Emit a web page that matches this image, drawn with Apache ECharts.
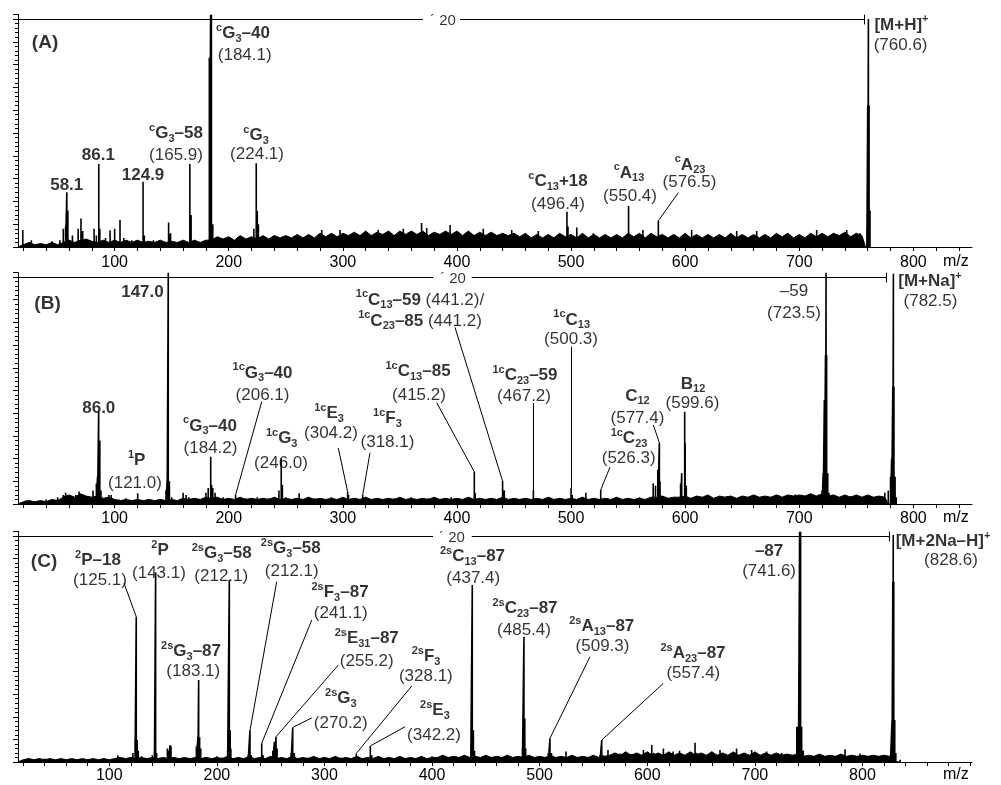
<!DOCTYPE html>
<html><head><meta charset="utf-8">
<script src="https://cdn.jsdelivr.net/npm/echarts@6/dist/echarts.min.js"></script>
<style>html,body{margin:0;padding:0;background:#fff}#c{width:1001px;height:785px}</style>
</head><body><div id="c"></div>
<script>
// ---------------- data ----------------
const xRangeAB = [15.3, 851.4];
const xRangeC = [15.2, 901.8];
const tickLabels = [100, 200, 300, 400, 500, 600, 700, 800];

// peaks [m/z, relative intensity] (display scale 0..100, ×20 region left of bar)
const peaksA = [[19.5,7.5],[27,3],[45,2.5],[52,3],[55,8],[57,9],[58.1,24],[59,16],[63,5],[68,8],[70.5,12.5],[72,7],[82,8],[84,5],[86.1,36.4],[87,8],[92,4],[96,7.4],[100,8],[104.7,11.8],[108,4],[115,3],[124.9,28.6],[126,5],[134,3],[147.3,10.7],[149,6],[165.9,36.4],[167,14],[183,83],[184.1,101.8],[184.8,101.8],[186,10],[196,3],[205,3],[212,4],[222,8],[224.1,36.7],[225,15.8],[226,10],[240,5],[281.5,7.5],[297.5,7.5],[331,7.5],[353,8],[369,10.5],[373.5,8.3],[394,9.6],[423.1,8],[448,7.5],[471.3,7],[496.4,15.5],[497.3,9],[505,8.5],[519.5,6],[550.4,18],[563,7.5],[576.5,11.5],[605.7,7.5],[645.2,7],[662.7,7],[715.3,7.5],[741.6,7.5],[753.3,6],[759.3,9],[760,62],[760.6,100],[761.2,62],[762,16]];
const peaksB = [[22,1.5],[40,2],[50,3],[55,4],[57,5],[60,3],[66,4],[68.8,5.5],[71,4],[78,3],[81,6],[84,9],[85,12],[86.0,40.7],[87,28],[88,6],[95,4],[97,4],[104,2],[110,2.5],[120.2,4.7],[130,2],[140,2],[145,6],[146,10.6],[147.0,101.9],[148,10],[150,3],[160,5],[162.6,4],[165,3],[170,2.5],[180,5],[182,7],[184.2,20.8],[185,8.4],[186,7],[188,5],[195,3],[206,4],[215,2.5],[225,3],[235,2.5],[244,6],[246,20.1],[247,8.4],[250,3],[261.7,4.7],[275,2.5],[290,3],[304.2,5.4],[305,4],[317.4,4],[330,2.5],[345,2.5],[360,3],[375,2.5],[395,3],[415.2,14.2],[416,5],[440,10.1],[441.5,6],[467,6.2],[481,3],[500,7],[501,4],[513,5],[526,6.2],[540,3],[560,3],[572,9],[574,8],[576,15],[577.4,27],[578,10],[596,9],[597,13.6],[599.6,40.7],[600,27],[601,8],[620,3],[636.4,3.5],[660,3],[682,4],[696.3,4.2],[710,4],[720,6],[721,13.6],[722,45.8],[723,65.6],[723.5,101.9],[724,65.6],[725,13.6],[726,5],[745,3.5],[760,3],[775,5],[778,6],[780,12],[781,20],[782,51.7],[782.5,101.5],[783,51.7],[784,12],[785,3]];
const peaksC = [[25,1.5],[40,1.5],[60,1],[80,1],[95,1.5],[108,3],[113,2],[118,1.5],[122,4],[124,10],[125.1,64.3],[126,9.7],[127,5],[130,2.5],[140,3],[142,5],[143.1,84],[144,4],[150,2],[154,6],[155,5],[156.5,7.5],[157.4,7],[160,2],[170,1.5],[181,7],[182.4,11],[183.1,36.3],[184,11],[185,6],[190,2],[200,2.5],[205,2],[210,5],[211.6,80.5],[212.4,14],[213,6],[220,2],[229,3],[230.8,14],[232,3],[241.7,8.3],[243,3],[252,5],[253.5,9],[255,11.2],[256,6],[269,4],[270.5,15.3],[272,4],[285,2],[300,2],[315,2],[329.6,3.8],[331,2.5],[342.6,7.1],[344,3],[360,2],[380,2],[400,2.5],[420,2],[436,4],[437.4,78.3],[438.4,14],[439.5,5],[450,2.5],[465,2],[484,6],[485.4,55.4],[486.2,19.3],[487,6],[500,2],[508,4],[509.6,10.5],[511,4],[524.5,4.6],[540,2.5],[556,3],[557.7,9.7],[559,3],[563.5,5.3],[574.7,3.8],[585,3.5],[596.4,5.3],[598,4],[604.2,7.5],[606,4],[615,6],[624,4.6],[630,5],[644.4,8.5],[646,4],[660,4.5],[667.6,5.3],[683,6],[697,5.3],[711,4.6],[725,4],[735,3],[739,15.6],[740.5,15.6],[741.6,101.9],[742.5,101.9],[743.5,15.6],[745,5],[760,3],[770,3],[783.8,5.6],[797.7,3.8],[810,3],[826,3],[827.5,18.6],[828.2,79.8],[828.6,100.4],[829.1,79.8],[830,18.6],[831,4],[835,1]];

// baseline noise sampled every 5 m/z
const noiseStep = 5;
const noiseStartA = 20;
const noiseA = [1,2,1,1.5,1,2,1,
 2,3,2,3,3.5,2.5,2,3,2,3,
 2,3,2,3,2,2.5,2,3,2,2.5,2,3,2,3,2,3,
 3,4.5,3.5,4.5,3,5,3.5,4.5,3.5,5,3.5,5,4,5,4,5.5,4,5.5,4,6,4.5,6,4.5,6,
 5,6.5,5,7,5,6.5,5.5,7,5,7,5.5,7,5.5,7,5,6.5,5.5,7,5.5,7,5,7,5,6.5,5,6.5,5,6,5,6,4.5,6,
 4,5.5,4,5.5,4,6,4.5,5.5,4,6,4,5.5,4,5.5,4,5.5,4,6,4.5,6,4,6,4.5,5.5,4,5.5,4,6,4,5.5,
 4,5.5,4,5.5,4,6,4,5.5,4,5.5,4,5.5,4,6,4.5,6,4,5.5,4,6,4.5,6,4.5,6,5,6.5,4.5,6,5];
const noiseStartB = 20;
const noiseB = [1,1.5,1,1.5,1,2,1.5,
 3,4,3,4.5,3.5,3,3.5,2.5,3,2,
 1.5,2,1.5,2,1.5,2,1.5,2,1.5,2,1.5,2.5,2,2.5,2,3,
 2.5,3,2,2.5,2,3,2,2.5,2,2.5,2,3,2,2.5,2,2.5,2,3,2,2.5,2,2.5,2,3,
 2,2.5,2,3,2,2.5,2,2.5,2,3,2,2.5,2,2.5,2,3,2,2.5,2,2.5,2,3,2,2.5,2,2.5,2,3,2,2.5,2,2.5,
 2,2.5,2,3,2,2.5,2,2.5,2,3,2,2.5,2,2.5,2,3,2,2.5,2,2.5,2,3,
 3,3.5,2.5,3,3,3.5,2.5,3.5,3,4,2.5,3.5,3,3.5,2.5,3.5,3,4,3,3.5,3,4,3,4,3.5,4,3.5,4.5,3.5,4.5,
 3.5,4,3,4,3,4,3,4,3,3.5,3];
const noiseStartC = 20;
const noiseC = [1,1.5,1,1.5,1,1.5,1,1.5,1,1.5,1,1.5,1,1.5,1,1.5,1,
 1.5,2,1.5,2,1.5,2,1.5,2,1.5,2,1.5,2,1.5,2,1.5,2,1.5,2,1.5,2,
 1.5,2.5,1.5,2,1.5,2.5,1.5,2,1.5,2.5,1.5,2,1.5,2.5,1.5,2,1.5,2.5,1.5,2,1.5,2.5,1.5,2,1.5,2.5,1.5,2,1.5,2.5,1.5,2,1.5,2.5,1.5,2,1.5,2.5,1.5,2,
 2,3,2,2.5,2,3,2,2.5,2,3,2,2.5,2,3,2,2.5,2,3,2,2.5,2,3,2,2.5,2,3,2,2.5,2,3,2,2.5,
 3,4,3,4.5,3,4,3,4.5,3,4,3,4.5,3,4,3,4.5,3,4,3,4.5,3,4,3,4.5,3,4,3,4.5,3,4,3,4,3,3.5,3,3.5,
 2.5,3,2.5,3.5,2.5,3,2.5,3.5,2.5,3,2.5,3,2.5,3,2.5,3,2.5];

// annotations [m/z, intensity, rich text]
const labelsA = [[39.0,89.5,'{h|(A)}'],[58.0,27.2,'{b|58.1}'],[85.7,40.0,'{b|86.1}'],[124.9,31.6,'{b|124.9}'],
 [153.8,50.0,'{p|c}{b|G}{s|3}{b|–58}'],[153.8,40.4,'{n|(165.9)}'],
 [212.5,93.7,'{p|c}{b|G}{s|3}{b|–40}'],[214.0,84.2,'{n|(184.1)}'],
 [223.9,49.1,'{p|c}{b|G}{s|3}'],[224.8,40.8,'{n|(224.1)}'],
 [488.6,28.6,'{p|c}{b|C}{s|13}{b|+18}'],[488.6,18.9,'{n|(496.4)}'],
 [550.8,32.5,'{p|c}{b|A}{s|13}'],[551.7,22.1,'{n|(550.4)}'],
 [604.3,36.0,'{p|c}{b|A}{s|23}'],[603.8,28.4,'{n|(576.5)}'],
 [789.6,97.4,'{b|[M+H]}{p|+}'],[788.8,88.6,'{n|(760.6)}'],
 [387.8,99.1,'{t|´ 20}']];
const labelsB = [[41.2,88.4,'{h|(B)}'],[124.4,93.1,'{b|147.0}'],[86.1,42.2,'{b|86.0}'],
 [119.3,19.4,'{p|1}{b|P}'],[117.8,9.1,'{n|(121.0)}'],
 [183.6,34.4,'{p|c}{b|G}{s|3}{b|–40}'],[184.0,24.5,'{n|(184.2)}'],
 [229.6,57.8,'{p|1c}{b|G}{s|3}{b|–40}'],[229.6,48.0,'{n|(206.1)}'],
 [246.4,28.9,'{p|1c}{b|G}{s|3}'],[245.8,17.9,'{n|(246.0)}'],
 [287.9,40.0,'{p|1c}{b|E}{s|3}'],[289.6,31.1,'{n|(304.2)}'],
 [339.1,37.8,'{p|1c}{b|F}{s|3}'],[339.1,27.4,'{n|(318.1)}'],
 [365.9,58.3,'{p|1c}{b|C}{s|13}{b|–85}'],[366.7,48.0,'{n|(415.2)}'],
 [367.6,89.9,'{p|1c}{b|C}{s|13}{b|–59}{n| (441.2)/}'],[367.6,80.7,'{p|1c}{b|C}{s|23}{b|–85}{n| (441.2)}'],
 [459.6,56.8,'{p|1c}{b|C}{s|23}{b|–59}'],[458.8,47.6,'{n|(467.2)}'],
 [500.6,81.1,'{p|1c}{b|C}{s|13}'],[500.0,72.6,'{n|(500.3)}'],
 [558.2,47.6,'{b|C}{s|12}'],[558.2,37.8,'{n|(577.4)}'],
 [550.8,28.9,'{p|1c}{b|C}{s|23}'],[550.5,20.1,'{n|(526.3)}'],
 [606.9,52.9,'{b|B}{s|12}'],[606.4,44.4,'{n|(599.6)}'],
 [695.4,93.5,'{n|–59}'],[695.4,84.0,'{n|(723.5)}'],
 [814.6,97.9,'{b|[M+Na]}{p|+}'],[815.0,89.1,'{n|(782.5)}'],
 [396.5,99.4,'{t|´ 20}']];
const labelsC = [[39.4,88.6,'{h|(C)}'],
 [89.5,89.4,'{p|2}{b|P–18}'],[91.4,80.5,'{n|(125.1)}'],
 [147.2,93.8,'{p|2}{b|P}'],[146.2,83.5,'{n|(143.1)}'],
 [204.5,92.3,'{p|2s}{b|G}{s|3}{b|–58}'],[204.1,82.0,'{n|(212.1)}'],
 [268.7,94.6,'{p|2s}{b|G}{s|3}{b|–58}'],[269.6,84.2,'{n|(212.1)}'],
 [176.0,48.8,'{p|2s}{b|G}{s|3}{b|–87}'],[178.1,40.0,'{n|(183.1)}'],
 [314.5,75.2,'{p|2s}{b|F}{s|3}{b|–87}'],[315.1,65.9,'{n|(241.1)}'],
 [339.3,54.7,'{p|2s}{b|E}{s|31}{b|–87}'],[339.3,44.4,'{n|(255.2)}'],
 [315.2,28.2,'{p|2s}{b|G}{s|3}'],[315.2,17.1,'{n|(270.2)}'],
 [394.4,46.6,'{p|2s}{b|F}{s|3}'],[394.2,37.7,'{n|(328.1)}'],
 [402.7,23.0,'{p|2s}{b|E}{s|3}'],[401.8,11.9,'{n|(342.2)}'],
 [437.6,90.8,'{p|2s}{b|C}{s|13}{b|–87}'],[438.3,81.3,'{n|(437.4)}'],
 [486.4,68.0,'{p|2s}{b|C}{s|23}{b|–87}'],[485.5,58.4,'{n|(485.4)}'],
 [557.7,59.9,'{p|2s}{b|A}{s|13}{b|–87}'],[558.4,51.0,'{n|(509.3)}'],
 [642.5,48.2,'{p|2s}{b|A}{s|23}{b|–87}'],[642.8,39.4,'{n|(557.4)}'],
 [713.2,93.1,'{b|–87}'],[713.2,84.2,'{n|(741.6)}'],
 [874.9,97.5,'{b|[M+2Na–H]}{p|+}'],[882.3,89.4,'{n|(828.6)}'],
 [418.5,99.1,'{t|´ 20}']];

// leader lines [m1, v1, m2, v2]
const leadersA = [[594.0,23.8,576.5,11.5]];
const leadersB = [[228.9,45.1,206,4],[296.0,24.7,304.2,5.4],[323.8,22.6,317.4,4],[382.3,44.6,415.2,14.2],[398.3,77.8,440,10.1],[467,44.5,467,6.2],[500,69.3,500,7],[534.1,16.2,526,6.2],[572.1,34.8,577.4,27]];
const leadersC = [[113.7,79.1,125.1,64.3],[255.6,79.8,230.8,14],[288.2,62.8,241.7,8.3],[312.9,42.9,255,11.2],[288.2,19.5,270.5,15.3],[381.1,33.6,329.6,3.8],[374.9,15.6,342.6,7.1],[546.8,46.6,509.6,10.5],[614.9,34.8,557.7,9.7]];

// ×20 magnification bar: [gap start, gap end, end of magnified range]
const zoomBarA = [370.3, 402.7, 756.8];
const zoomBarB = [379.3, 412.9, 776.0];
const zoomBarC = [400.9, 436.9, 825.0];

// ---------------- chart ----------------
const FONT = '"Liberation Sans", Arial, Helvetica, sans-serif';
const rich = {
  b: {fontFamily: FONT, fontSize: 17, fontWeight: 'bold', color: '#000', lineHeight: 22},
  n: {fontFamily: FONT, fontSize: 17, fontWeight: 'normal', color: '#000', lineHeight: 22},
  p: {fontFamily: FONT, fontSize: 11, fontWeight: 'bold', color: '#000', lineHeight: 14, verticalAlign: 'top'},
  s: {fontFamily: FONT, fontSize: 11, fontWeight: 'bold', color: '#000', lineHeight: 8, verticalAlign: 'bottom'},
  t: {fontFamily: FONT, fontSize: 15, fontWeight: 'normal', color: '#000', lineHeight: 22},
  h: {fontFamily: FONT, fontSize: 19, fontWeight: 'bold', color: '#000', lineHeight: 22}
};

const panels = [
  {top: 14.4, height: 232.6, xr: xRangeAB, peaks: peaksA, noise: noiseA, ns: noiseStartA, labels: labelsA, leaders: leadersA, bar: zoomBarA, margin: 8, mzY: 263},
  {top: 272.5, height: 231.5, xr: xRangeAB, peaks: peaksB, noise: noiseB, ns: noiseStartB, labels: labelsB, leaders: leadersB, bar: zoomBarB, margin: 7, mzY: 519},
  {top: 531.5, height: 230.5, xr: xRangeC, peaks: peaksC, noise: noiseC, ns: noiseStartC, labels: labelsC, leaders: leadersC, bar: zoomBarC, margin: 6, mzY: 776}
];
const YMAX = 102;

const grid = [], xAxis = [], yAxis = [], series = [], graphic = [];
panels.forEach((P, i) => {
  grid.push({left: 18, width: 954, top: P.top, height: P.height, containLabel: false});
  xAxis.push({
    type: 'value', gridIndex: i, min: P.xr[0], max: P.xr[1],
    splitNumber: 42, minInterval: 20, maxInterval: 20,
    axisLine: {show: true, onZero: false, lineStyle: {color: '#000', width: 1}},
    axisTick: {show: true, inside: false, length: 4, lineStyle: {color: '#000', width: 1}},
    splitLine: {show: false},
    axisLabel: {show: true, margin: P.margin, color: '#000', fontFamily: FONT, fontSize: 16,
      showMinLabel: false, showMaxLabel: false,
      formatter: v => { const r = Math.round(v); return (Math.abs(v - r) < 1e-6 && tickLabels.includes(r)) ? String(r) : ''; }}
  });
  yAxis.push({
    type: 'value', gridIndex: i, min: 0, max: YMAX, interval: 10,
    axisLine: {show: true, onZero: false, lineStyle: {color: '#000', width: 1}},
    axisTick: {show: true, inside: false, length: 5, lineStyle: {color: '#000', width: 1}},
    minorTick: {show: true, splitNumber: 5, length: 3, lineStyle: {color: '#000', width: 1}},
    splitLine: {show: false}, minorSplitLine: {show: false},
    axisLabel: {show: false}
  });
  // noise band
  const npts = [[P.ns - noiseStep, 0]];
  P.noise.forEach((v, k) => npts.push([P.ns + k * noiseStep, v]));
  npts.push([P.ns + (P.noise.length - 1) * noiseStep + 3, 0]);
  series.push({type: 'line', xAxisIndex: i, yAxisIndex: i, data: npts, symbol: 'none', silent: true,
    lineStyle: {color: '#000', width: 1}, areaStyle: {color: '#000', opacity: 1}, z: 2});
  // stick spectrum
  const sorted = P.peaks.slice().sort((a, b) => a[0] - b[0]);
  const spts = [];
  sorted.forEach(([m, v]) => { spts.push([m, 0], [m, v], [m, 0]); });
  const ml = P.leaders.map(l => [{coord: [l[0], l[1]]}, {coord: [l[2], l[3]]}]);
  ml.push([{coord: [P.xr[0], 100]}, {coord: [P.bar[0], 100]}]);
  ml.push([{coord: [P.bar[1], 100]}, {coord: [P.bar[2], 100]}]);
  ml.push([{coord: [P.bar[2], 101.9]}, {coord: [P.bar[2], 97.6]}]);
  series.push({type: 'line', xAxisIndex: i, yAxisIndex: i, data: spts, symbol: 'none', silent: true, clip: false,
    lineStyle: {color: '#000', width: 1.6}, z: 3,
    markLine: {silent: true, symbol: ['none', 'none'], animation: false,
      label: {show: false}, lineStyle: {color: '#000', width: 1, type: 'solid'},
      emphasis: {disabled: true}, data: ml}});
  // annotations
  series.push({type: 'scatter', xAxisIndex: i, yAxisIndex: i, symbolSize: 0, silent: true, clip: false, z: 5,
    data: P.labels.map(l => ({value: [l[0], l[1]], t: l[2]})),
    label: {show: true, position: 'inside', align: 'center', verticalAlign: 'middle',
      formatter: p => p.data.t, rich: rich}});
  graphic.push({type: 'text', left: 943, top: P.mzY - 9, style: {text: 'm/z', fill: '#000', font: '16px ' + FONT}});
});

const chart = echarts.init(document.getElementById('c'), null, {renderer: 'canvas'});
chart.setOption({animation: false, backgroundColor: '#fff', grid, xAxis, yAxis, series, graphic});
</script></body></html>
